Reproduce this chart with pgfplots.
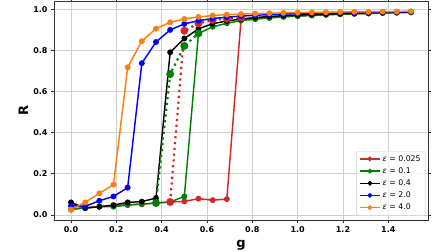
\documentclass[border=0pt]{standalone}
\usepackage{fontspec}
\setmainfont{DejaVu Sans}
\usepackage{pgfplots}
\pgfplotsset{compat=1.18}
\definecolor{tabred}{HTML}{D62728}
\definecolor{tgreen}{HTML}{008000}
\definecolor{tblue}{HTML}{0000FF}
\definecolor{torange}{HTML}{FF7F0E}
\definecolor{gridc}{HTML}{D0D0D0}
\begin{document}
\begin{tikzpicture}[x=1pt,y=1pt]
\useasboundingbox (0,0) rectangle (448,252);
\begin{axis}[
  at={(54pt,31.7pt)}, anchor=south west,
  scale only axis, width=374pt, height=218.8pt,
  xmin=-0.075, xmax=1.575, ymin=-0.026, ymax=1.038,
  xtick={0,0.2,...,1.4}, ytick={0,0.2,...,1.0},
  /pgf/number format/assume math mode=true,
  /pgf/number format/.cd, fixed, fixed zerofill, precision=1, /pgfplots/.cd,
  ticklabel style={font=\fontsize{8}{9}\selectfont\bfseries},
  tick align=outside, major tick length=3pt,
  tick style={black!80, line width=0.7pt},
  axis line style={black!80, line width=0.8pt},
  grid=major, major grid style={gridc, line width=0.8pt},
  xlabel={g}, ylabel={R},
  label style={font=\fontsize{13}{15}\selectfont\bfseries},
  xlabel style={at={(axis description cs:0.5,-0.115)}, anchor=center},
  ylabel style={at={(axis description cs:-0.082,0.5)}, anchor=center, rotate=0},
  legend style={at={(rel axis cs:0.993,0.022)}, anchor=south east,
    font=\fontsize{7.8}{8.5}\selectfont, draw=black!20, rounded corners=2pt,
    fill=white, fill opacity=0.8, text opacity=1, row sep=0.9pt,
    inner xsep=2.5pt, inner ysep=2pt},
  legend cell align=left,
  legend image code/.code={
    \draw[line width=1.45pt, mark repeat=2, mark phase=2, mark size=1.6pt] plot coordinates {(0pt,0pt) (10pt,0pt) (20pt,0pt)};},
  every axis plot/.append style={line width=1.45pt, mark=*, mark size=2.2pt},
]
% eps = 0.025
\addplot[color=tabred, mark options={fill=tabred}] coordinates {
(0,0.025)(0.0625,0.035)(0.125,0.040)(0.1875,0.045)(0.25,0.050)(0.3125,0.052)
(0.375,0.058)(0.4375,0.063)(0.5,0.066)(0.5625,0.079)(0.625,0.072)(0.6875,0.077)
(0.75,0.948)(0.8125,0.955)(0.875,0.960)(0.9375,0.965)(1.0,0.968)(1.0625,0.971)
(1.125,0.974)(1.1875,0.976)(1.25,0.978)(1.3125,0.980)(1.375,0.982)(1.4375,0.983)(1.5,0.985)};
\addlegendentry{{\itshape ε} = 0.025}
% eps = 0.1
\addplot[color=tgreen, mark options={fill=tgreen}] coordinates {
(0,0.030)(0.0625,0.035)(0.125,0.040)(0.1875,0.040)(0.25,0.048)(0.3125,0.053)
(0.375,0.058)(0.4375,0.063)(0.5,0.090)(0.5625,0.883)(0.625,0.915)(0.6875,0.932)
(0.75,0.945)(0.8125,0.952)(0.875,0.958)(0.9375,0.963)(1.0,0.967)(1.0625,0.970)
(1.125,0.973)(1.1875,0.976)(1.25,0.978)(1.3125,0.980)(1.375,0.982)(1.4375,0.984)(1.5,0.986)};
\addlegendentry{{\itshape ε} = 0.1}
% eps = 0.4
\addplot[color=black, mark options={fill=black}] coordinates {
(0,0.061)(0.0625,0.033)(0.125,0.040)(0.1875,0.048)(0.25,0.061)(0.3125,0.065)
(0.375,0.082)(0.4375,0.791)(0.5,0.858)(0.5625,0.905)(0.625,0.930)(0.6875,0.943)
(0.75,0.953)(0.8125,0.960)(0.875,0.965)(0.9375,0.969)(1.0,0.972)(1.0625,0.975)
(1.125,0.977)(1.1875,0.979)(1.25,0.981)(1.3125,0.983)(1.375,0.984)(1.4375,0.986)(1.5,0.987)};
\addlegendentry{{\itshape ε} = 0.4}
% dotted branches
\addplot[forget plot, color=tabred, line width=2.2pt, dash pattern=on 2.2pt off 3.6pt, mark size=2.8pt, mark options={solid, fill=tabred}] coordinates {
(0.4375,0.063)(0.5,0.896)(0.5625,0.932)(0.625,0.948)(0.6875,0.955)(0.75,0.960)};
\addplot[forget plot, color=tgreen, line width=2.2pt, dash pattern=on 2.2pt off 3.6pt, mark size=2.8pt, mark options={solid, fill=tgreen}] coordinates {
(0.375,0.058)(0.4375,0.685)(0.5,0.822)(0.5625,0.883)};
% eps = 2.0
\addplot[color=tblue, mark options={fill=tblue}] coordinates {
(0,0.045)(0.0625,0.042)(0.125,0.069)(0.1875,0.090)(0.25,0.133)(0.3125,0.738)
(0.375,0.841)(0.4375,0.900)(0.5,0.929)(0.5625,0.945)(0.625,0.955)(0.6875,0.962)
(0.75,0.967)(0.8125,0.971)(0.875,0.974)(0.9375,0.977)(1.0,0.979)(1.0625,0.981)
(1.125,0.983)(1.1875,0.984)(1.25,0.985)(1.3125,0.986)(1.375,0.987)(1.4375,0.988)(1.5,0.989)};
\addlegendentry{{\itshape ε} = 2.0}
% eps = 4.0
\addplot[color=torange, mark options={fill=torange}] coordinates {
(0,0.026)(0.0625,0.061)(0.125,0.105)(0.1875,0.147)(0.25,0.718)(0.3125,0.845)
(0.375,0.906)(0.4375,0.937)(0.5,0.953)(0.5625,0.963)(0.625,0.970)(0.6875,0.974)
(0.75,0.977)(0.8125,0.979)(0.875,0.981)(0.9375,0.983)(1.0,0.984)(1.0625,0.985)
(1.125,0.986)(1.1875,0.987)(1.25,0.988)(1.3125,0.988)(1.375,0.989)(1.4375,0.989)(1.5,0.990)};
\addlegendentry{{\itshape ε} = 4.0}
\end{axis}
\end{tikzpicture}
\end{document}
